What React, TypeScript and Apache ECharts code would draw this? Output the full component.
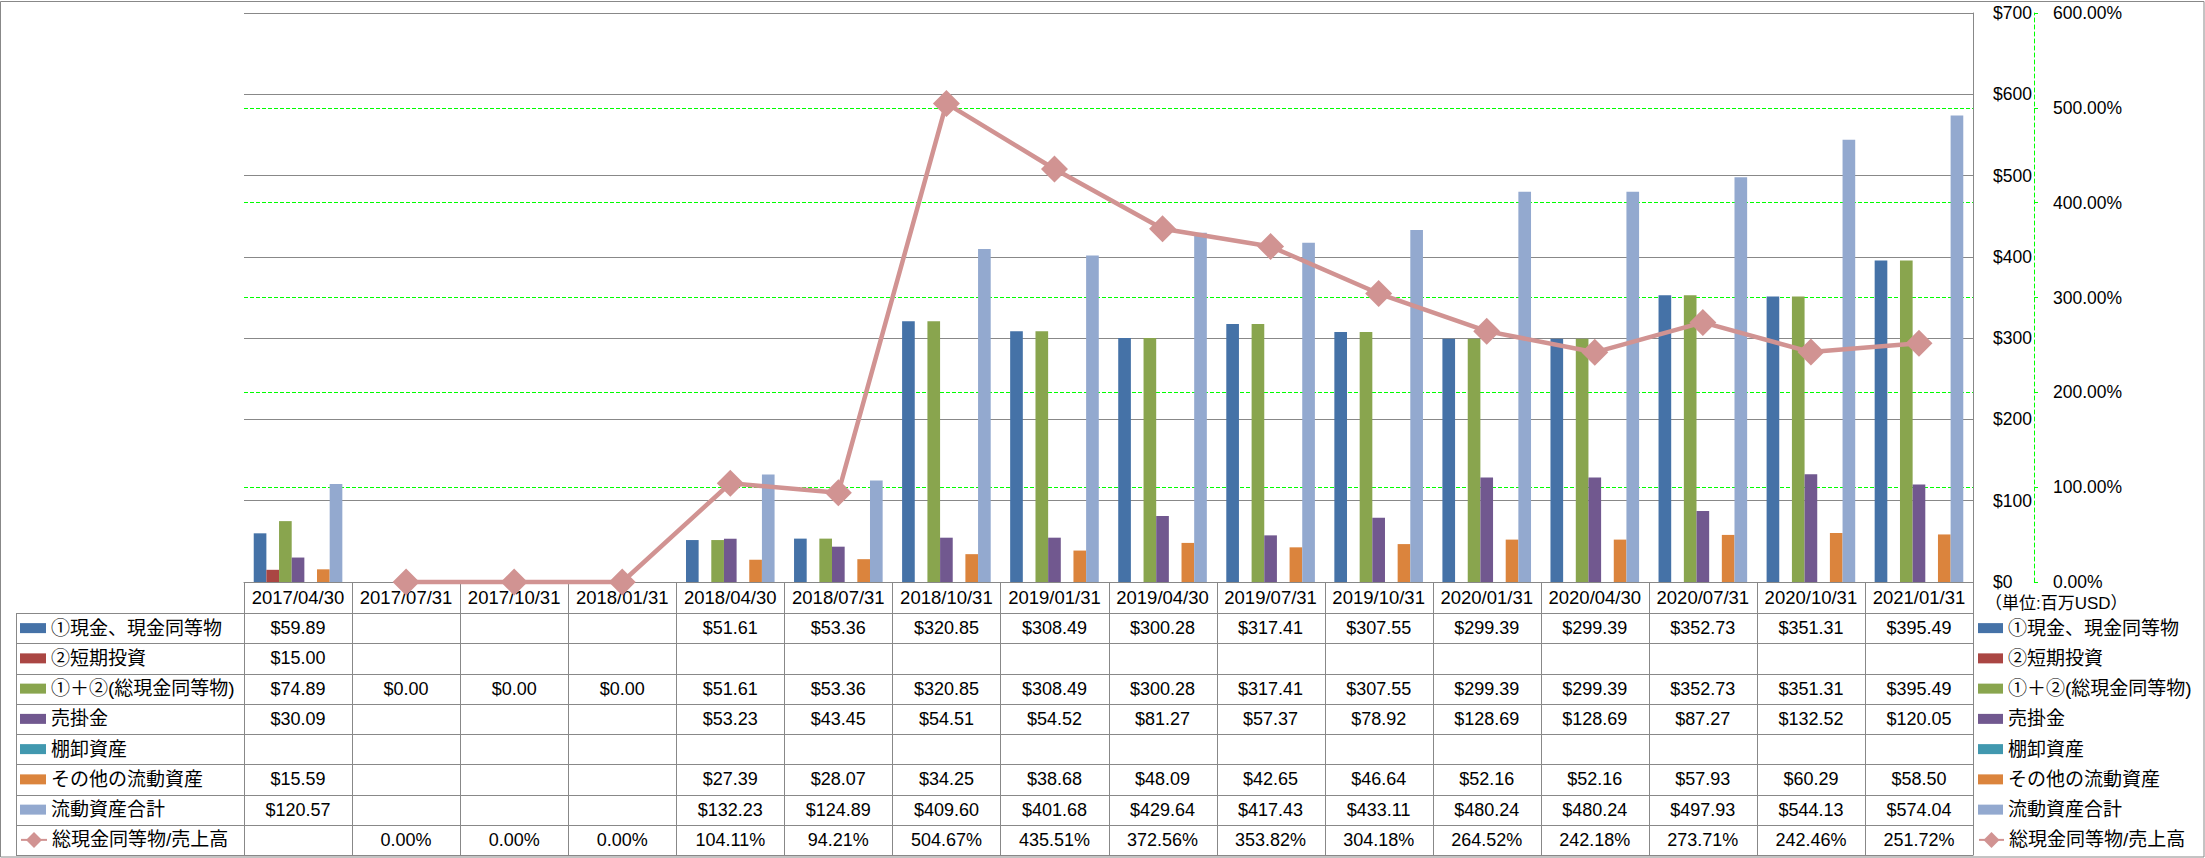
import React, { useEffect, useRef } from 'react';
import * as echarts from 'echarts';

// ---------- data ----------
const categories = [
  '2017/04/30', '2017/07/31', '2017/10/31', '2018/01/31', '2018/04/30', '2018/07/31',
  '2018/10/31', '2019/01/31', '2019/04/30', '2019/07/31', '2019/10/31', '2020/01/31',
  '2020/04/30', '2020/07/31', '2020/10/31', '2021/01/31',
];
const cashEquivalents = [59.89, null, null, null, 51.61, 53.36, 320.85, 308.49, 300.28, 317.41, 307.55, 299.39, 299.39, 352.73, 351.31, 395.49];
const shortTermInvestments = [15.0, null, null, null, null, null, null, null, null, null, null, null, null, null, null, null];
const totalCash = [74.89, 0, 0, 0, 51.61, 53.36, 320.85, 308.49, 300.28, 317.41, 307.55, 299.39, 299.39, 352.73, 351.31, 395.49];
const receivables = [30.09, null, null, null, 53.23, 43.45, 54.51, 54.52, 81.27, 57.37, 78.92, 128.69, 128.69, 87.27, 132.52, 120.05];
const inventory = [null, null, null, null, null, null, null, null, null, null, null, null, null, null, null, null];
const otherCurrentAssets = [15.59, null, null, null, 27.39, 28.07, 34.25, 38.68, 48.09, 42.65, 46.64, 52.16, 52.16, 57.93, 60.29, 58.5];
const totalCurrentAssets = [120.57, null, null, null, 132.23, 124.89, 409.6, 401.68, 429.64, 417.43, 433.11, 480.24, 480.24, 497.93, 544.13, 574.04];
const cashToSalesRatio = [null, 0, 0, 0, 104.11, 94.21, 504.67, 435.51, 372.56, 353.82, 304.18, 264.52, 242.18, 273.71, 242.46, 251.72];

const barNames = ['①現金、現金同等物', '②短期投資', '①＋②(総現金同等物)', '売掛金', '棚卸資産', 'その他の流動資産', '流動資産合計'];
const lineName = '総現金同等物/売上高';
const barData = [cashEquivalents, shortTermInvestments, totalCash, receivables, inventory, otherCurrentAssets, totalCurrentAssets];
const barColors = ['#4572A7', '#AA4643', '#89A54E', '#71588F', '#4198AF', '#DB843D', '#93A9CF'];
const lineColor = '#D19392';
const unitLabel = '（単位:百万USD）';

// ---------- layout ----------
const W = 2205;
const H = 858;
const PLOT_L = 244;
const PLOT_R = 1973;
const PLOT_T = 13;
const AXIS_Y = 582;
const ROW_TOP = 613;
const ROW_H = 30.25;
const TABLE_L = 16;
const GRAY = '#888888';
const GREEN = '#00ff00';
const FONT = "'Liberation Sans', 'Noto Sans CJK JP', sans-serif";

function fmtMoney(v: number | null) {
  return v == null ? '' : '$' + v.toFixed(2);
}
function fmtPct(v: number | null) {
  return v == null ? '' : v.toFixed(2) + '%';
}

function buildGraphics() {
  const g: any[] = [];
  const colW = (PLOT_R - PLOT_L) / categories.length;
  const tableBottom = ROW_TOP + ROW_H * 8;
  g.push({
    type: 'rect', silent: true, z: 0,
    shape: { x: 0.5, y: 1.5, width: W - 1.5, height: H - 2.5 },
    style: { fill: 'none', stroke: GRAY, lineWidth: 1 },
  });
  for (let k = 0; k <= 8; k++) {
    const y = Math.round(ROW_TOP + k * ROW_H) + 0.5;
    g.push({ type: 'line', silent: true, z: 0, shape: { x1: TABLE_L, y1: y, x2: PLOT_R + 0.5, y2: y }, style: { stroke: GRAY, lineWidth: 1 } });
  }
  g.push({ type: 'line', silent: true, z: 0, shape: { x1: TABLE_L + 0.5, y1: ROW_TOP, x2: TABLE_L + 0.5, y2: tableBottom }, style: { stroke: GRAY, lineWidth: 1 } });
  for (let i = 0; i <= categories.length; i++) {
    const x = Math.round(PLOT_L + i * colW) + 0.5;
    g.push({ type: 'line', silent: true, z: 0, shape: { x1: x, y1: AXIS_Y, x2: x, y2: tableBottom }, style: { stroke: GRAY, lineWidth: 1 } });
  }
  const rows: { vals: (number | null)[]; fmt: (v: number | null) => string }[] = [
    ...barData.map((vals) => ({ vals, fmt: fmtMoney })),
    { vals: cashToSalesRatio, fmt: fmtPct },
  ];
  rows.forEach((row, r) => {
    row.vals.forEach((v, c) => {
      const t = row.fmt(v);
      if (!t) return;
      g.push({
        type: 'text', silent: true, z: 10,
        x: PLOT_L + (c + 0.5) * colW,
        y: ROW_TOP + (r + 0.5) * ROW_H,
        style: { text: t, fill: '#000', fontSize: 18, fontFamily: FONT, align: 'center', verticalAlign: 'middle' },
      });
    });
  });
  g.push({
    type: 'text', silent: true, z: 10,
    x: 1985, y: 603,
    style: { text: unitLabel, fill: '#000', fontSize: 17, fontFamily: FONT, align: 'left', verticalAlign: 'middle' },
  });
  return g;
}

function legendBlock(left: number, itemWidth: number) {
  const textStyle = { fontSize: 19, lineHeight: ROW_H, color: '#000', fontFamily: FONT };
  return [
    {
      data: barNames, orient: 'vertical', left, top: ROW_TOP, padding: 0, itemGap: 0,
      itemWidth, itemHeight: 10, icon: 'rect', selectedMode: false, textStyle,
    },
    {
      data: [lineName], orient: 'vertical', left, top: ROW_TOP + ROW_H * 7, padding: 0, itemGap: 0,
      itemWidth, itemHeight: 20, selectedMode: false, textStyle,
    },
  ];
}

export default function App() {
  const ref = useRef<HTMLDivElement>(null);
  useEffect(() => {
    if (!ref.current) return;
    const chart = echarts.init(ref.current, null, { renderer: 'svg' });
    const option: any = {
      animation: false,
      backgroundColor: '#ffffff',
      textStyle: { fontFamily: FONT },
      grid: {
        left: PLOT_L, right: W - PLOT_R, top: PLOT_T, bottom: H - AXIS_Y,
        containLabel: false, outerBoundsMode: 'none',
      },
      legend: [...legendBlock(20, 26), ...legendBlock(1978, 25)],
      xAxis: {
        type: 'category', data: categories, boundaryGap: true,
        axisLine: { show: true, lineStyle: { color: GRAY, width: 1 } },
        axisTick: { show: false },
        axisLabel: { interval: 0, margin: 15.5, verticalAlign: 'middle', fontSize: 18.5, color: '#000', fontFamily: FONT },
        splitLine: { show: false },
      },
      yAxis: [
        {
          type: 'value', position: 'right', min: 0, max: 700, interval: 100,
          axisLine: { show: true, lineStyle: { color: GRAY, width: 1 } },
          axisTick: { show: false },
          axisLabel: { margin: 20, align: 'left', fontSize: 17.5, color: '#000', fontFamily: FONT, formatter: (v: number) => '$' + v },
          splitLine: { show: true, lineStyle: { color: GRAY, width: 1, type: 'solid' } },
        },
        {
          type: 'value', position: 'right', offset: 61, min: 0, max: 600, interval: 100,
          axisLine: { show: true, lineStyle: { color: GREEN, width: 1, type: [4, 3] } },
          axisTick: { show: true, length: 4, lineStyle: { color: GREEN, width: 1 } },
          axisLabel: { margin: 19, align: 'left', fontSize: 17.5, color: '#000', fontFamily: FONT, formatter: (v: number) => v.toFixed(2) + '%' },
          splitLine: { show: true, showMinLine: false, showMaxLine: false, lineStyle: { color: GREEN, width: 1, type: [4, 2] } },
        },
      ],
      series: [
        ...barNames.map((name, i) => ({
          type: 'bar', name, data: barData[i], yAxisIndex: 0,
          barGap: '0%', barCategoryGap: '18%',
          itemStyle: { color: barColors[i] },
          emphasis: { disabled: true },
        })),
        {
          type: 'line', name: lineName, data: cashToSalesRatio, yAxisIndex: 1,
          symbol: 'diamond', symbolSize: 27, showSymbol: true, showAllSymbol: true,
          clip: false, z: 5, connectNulls: false,
          lineStyle: { width: 4.5, color: lineColor },
          itemStyle: { color: lineColor },
          emphasis: { disabled: true },
        },
      ],
      graphic: buildGraphics(),
    };
    chart.setOption(option);
    return () => chart.dispose();
  }, []);
  return <div ref={ref} style={{ position: 'absolute', left: 0, top: 0, width: W, height: H }} />;
}
